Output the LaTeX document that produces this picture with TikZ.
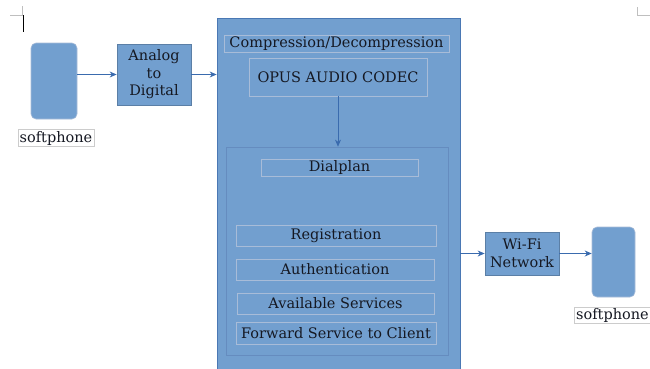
\documentclass[tikz,border=0pt]{standalone}
\usepackage{fontspec}
\setmainfont{DejaVu Serif}
\usetikzlibrary{arrows.meta}
\definecolor{boxblue}{HTML}{729FCF}
\definecolor{edgeblue}{HTML}{4A78B4}
\definecolor{lbledge}{HTML}{A8BCD8}
\definecolor{txt}{HTML}{151822}
\definecolor{arrblue}{HTML}{3A6BAE}
\tikzset{
  blk/.style={draw=edgeblue, fill=boxblue, line width=0.8pt, inner sep=0pt, text=txt, align=center},
  phone/.style={draw=lbledge, fill=boxblue, rounded corners=5pt, line width=0.6pt, inner sep=0pt},
  lbl/.style={draw=lbledge, line width=0.7pt, inner sep=0pt, text=txt, align=center},
  namebox/.style={draw=black!20, fill=white, line width=0.6pt, inner sep=0pt, text=txt},
  arr/.style={draw=arrblue, line width=0.9pt, -{Stealth[length=7pt,width=6pt]}},
  cropline/.style={draw=black!25, line width=0.8pt}
}
\begin{document}
\begin{tikzpicture}[x=1pt,y=-1pt]
\useasboundingbox (0,0) rectangle (650,368);
\clip (0,0) rectangle (650,368);
\fontsize{14.5}{17.5}\selectfont
% crop marks
\draw[cropline] (10,15) -- (22,15) -- (22,6);
\draw[black, line width=1.5pt] (23.5,15) -- (23.5,32);
\draw[cropline] (637,7) -- (637,15) -- (650,15);
% left phone
\node[phone, minimum width=46pt, minimum height=76pt] (lphone) at (54,81) {};
\node[namebox, minimum width=76pt, minimum height=17pt] (lname) at (56,138) {softphone};
% analog to digital
\node[blk, draw=boxblue!80!black, minimum width=74pt, minimum height=61pt] (a2d) at (154,74.5) {Analog\\to\\Digital};
% main block
\node[blk, minimum width=243pt, minimum height=362pt] (main) at (338.5,199) {};
\node[lbl, minimum width=225pt, minimum height=17pt] (comp) at (336.5,43.5) {Compression/Decompression};
\node[lbl, minimum width=178pt, minimum height=38pt] (opus) at (338,77) {OPUS AUDIO CODEC};
\node[blk, draw=edgeblue!85, line width=0.8pt, minimum width=222pt, minimum height=208pt] (inner) at (337,251) {};
\node[lbl, minimum width=157pt, minimum height=17pt] (dial) at (339.5,167.5) {Dialplan};
\node[lbl, minimum width=200pt, minimum height=21pt] (reg) at (336,235.5) {Registration};
\node[lbl, minimum width=198pt, minimum height=21pt] (auth) at (335,269.5) {Authentication};
\node[lbl, minimum width=197pt, minimum height=21pt] (avail) at (335.5,303.5) {Available Services};
\node[lbl, minimum width=200pt, minimum height=22pt] (fwd) at (336,333) {Forward Service to Client};
% wifi
\node[blk, draw=boxblue!80!black, minimum width=74pt, minimum height=43pt] (wifi) at (522,253.5) {Wi-Fi\\Network};
% right phone
\node[phone, minimum width=43pt, minimum height=70pt] (rphone) at (613.5,262) {};
\node[namebox, minimum width=77pt, minimum height=16pt] (rname) at (612.5,315) {softphone};
% connectors
\draw[arr] (lphone.east |- a2d.west) -- (a2d.west);
\draw[arr] (a2d.east) -- (a2d.east -| main.west);
\draw[arr, line width=0.6pt] (opus.south) -- (opus.south |- inner.north);
\draw[arr] (main.east |- wifi.west) -- (wifi.west);
\draw[arr] (wifi.east) -- (wifi.east -| rphone.west);
\end{tikzpicture}
\end{document}
